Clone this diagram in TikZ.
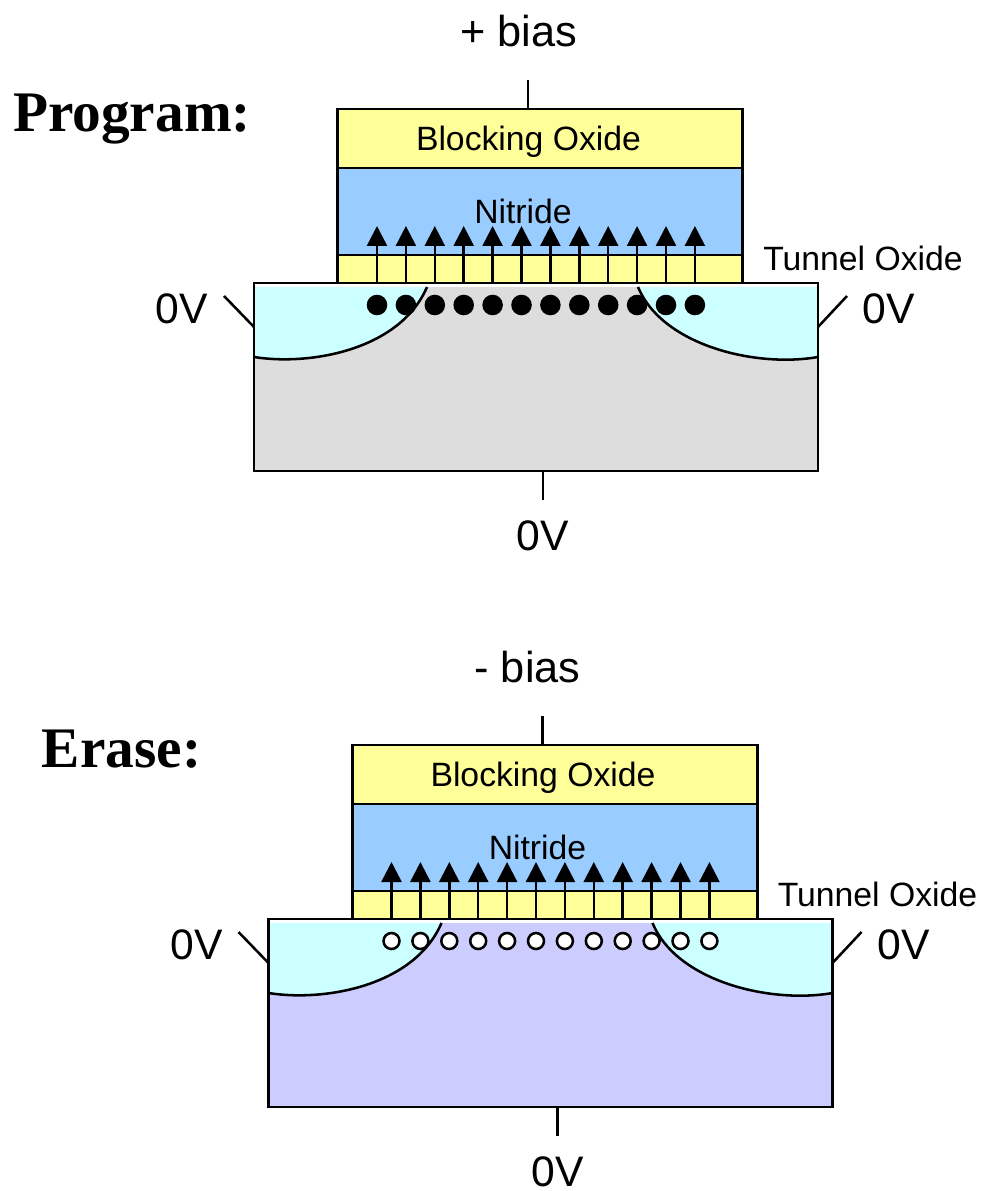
\documentclass[tikz,border=0pt]{standalone}
\usepackage{fontspec}
\usepackage{xcolor}
\usepackage{tikz}
\setmainfont{Liberation Sans}
\newfontfamily\titlefont{Liberation Serif}
\usetikzlibrary{positioning, calc, arrows.meta}
\definecolor{oxidecolor}{HTML}{FFFF99}
\definecolor{nitridecolor}{HTML}{99CCFF}
\definecolor{wellcolor}{HTML}{CCFFFF}
\definecolor{graysub}{HTML}{DDDDDD}
\definecolor{bluesub}{HTML}{CCCCFF}

\begin{document}
\begin{tikzpicture}[>={Triangle[length=15pt,width=15pt]}, x=0.75pt, y=-0.75pt, line width=1.9pt,
				layer/.style={draw, outer sep=0pt, inner sep=0pt, minimum width=303.75pt},
				charge/.style={circle, outer sep=0pt, inner sep=0pt},
				bigtext/.style={inner sep=0pt, font=\fontsize{32.5}{32.5}\selectfont},
				volttext/.style={inner sep=0pt, font=\fontsize{32}{32}\selectfont},
				smalltext/.style={inner sep=0pt, font=\fontsize{25.3}{25.3}\selectfont},
				titletext/.style={inner sep=0pt, anchor=base, font=\titlefont\bfseries\fontsize{43}{43}\selectfont}]
				\useasboundingbox (0,0) rectangle (981,1191);
				
				\foreach \cell/\dx/\dy/\subfill/\chargefill/\chargesize/\biastext/\biasx/\titlex/\titletxt in
				{prog/0/0/graysub/black/13.5pt/+ bias/518.5/132/Program:,
				 erase/14.5/636/bluesub/white/12pt/- bias/513/107/Erase:}{
				\begin{scope}[shift={(\dx,\dy)}, name prefix=\cell-]
				
				%Substrate and wells:
				\node[draw, fill=white, outer sep=0pt, inner sep=0pt, minimum width=423pt, minimum height=141pt] (sub) at (536,377) {};
				\fill[\subfill] (254,287) rectangle (818,471);
				\fill[wellcolor] (254,287) -- (427,287) .. controls (400,350) and (310,366) .. (254,357) -- cycle;
				\draw (427,287) .. controls (400,350) and (310,366) .. (254,357);
				\fill[wellcolor] (818,287) -- (638,287) .. controls (662,345) and (755,368) .. (818,357) -- cycle;
				\draw (638,287) .. controls (662,345) and (755,368) .. (818,357);
				\draw (sub.north west) rectangle (sub.south east);
				
				%Gate stack:
				\node[layer, fill=oxidecolor, minimum height=44.25pt] (block) at (540.25,138.5) {};
				\node[layer, fill=nitridecolor, minimum height=65.25pt] (nitride) at (540.25,211.5) {};
				\node[layer, fill=oxidecolor, minimum height=21pt] (tunnel) at (540.25,269) {};
				\node[smalltext] (blocklabel) at (528.5,142) {Blocking Oxide};
				\node[smalltext] (nitridelabel) at (523,211.5) {Nitride};
				
				%Charges and arrows:
				\foreach \i in {0,...,11}{
					\coordinate (tip\i) at ({377+28.9*\i},226);
					\coordinate (base\i) at ({377+28.9*\i},283);
					\node[charge, draw=black, fill=\chargefill, minimum size=\chargesize] (charge\i) at ({377+28.9*\i},305) {};
					\draw[->] (base\i) -- (tip\i);
				}
				
				%Terminals:
				\coordinate (gateend) at (528,80);
				\coordinate (leftend) at (224,296);
				\coordinate (leftpin) at (254,327);
				\coordinate (rightend) at (847,296);
				\coordinate (rightpin) at (818,327);
				\coordinate (bulkend) at (543,500);
				\draw (block.north -| gateend) -- (gateend);
				\draw (leftpin) -- (leftend);
				\draw (rightpin) -- (rightend);
				\draw (sub.south -| bulkend) -- (bulkend);
				
				\node[bigtext] (bias) at (\biasx,31) {\biastext};
				\node[volttext] (leftv) at (182,309) {0V};
				\node[volttext] (rightv) at (889,309) {0V};
				\node[volttext] (bulkv) at (543,535.5) {0V};
				\node[smalltext] (tunnellabel) at (863,258) {Tunnel Oxide};
				\node[titletext] (title) at (\titlex,131.5) {\titletxt};
				\end{scope}
				}
			\end{tikzpicture}
\end{document}
